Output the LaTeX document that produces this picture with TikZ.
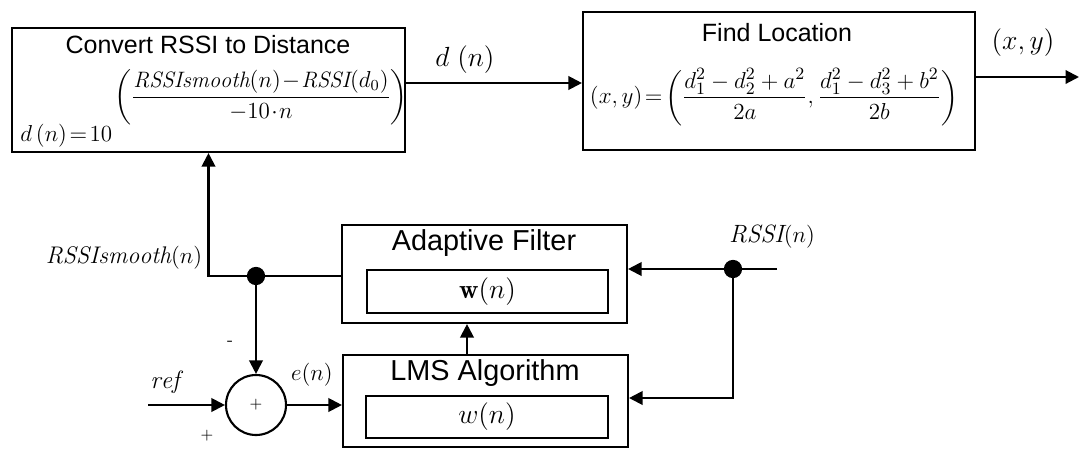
\documentclass[tikz,border=0pt]{standalone}
\usepackage{amsmath}
\usepackage{fontspec}
\newfontfamily\arialf{Liberation Sans}
\usetikzlibrary{arrows.meta,fit,calc}
\begin{document}
\begin{tikzpicture}[x=0.52pt,y=-0.52pt,
  box/.style={draw,line width=1.1pt,inner sep=0pt},
  arr/.style={line width=1.1pt,-{Triangle[length=7pt,width=7pt]}},
  wire/.style={line width=1.1pt},
  ttl/.style={font=\arialf\fontsize{13}{15}\selectfont,inner sep=0pt},
  ttlb/.style={font=\arialf\fontsize{15}{17}\selectfont,inner sep=0pt},
  lab/.style={inner sep=0pt},
  dot/.style={circle,fill,inner sep=0pt,minimum size=9.5pt}]
\useasboundingbox (0,0) rectangle (1080,450);
% top boxes
\node[box,fit={(12,28)(405,152)}] (box1) {};
\node[box,fit={(583,12)(975,150)}] (box2) {};
\node[ttl] (t1) at (208,45) {Convert RSSI to Distance};
\node[ttl] (t2) at (777,33) {Find Location};
\node[lab,anchor=base west,font=\fontsize{13}{15}\selectfont] (f1a) at (20,141) {$d\,(n)\!=\!10$};
\node[lab,font=\fontsize{11.6}{14}\selectfont] (f1b) at (261,97)
  {$\left(\dfrac{\mathit{RSSIsmooth}(n)\!-\!\mathit{RSSI}(d_0)}{-10\!\cdot\! n}\right)$};
\node[lab,font=\fontsize{12.5}{14}\selectfont] (f2) at (774,97)
  {$(x,y)\!=\!\left(\dfrac{d_1^2-d_2^2+a^2}{2a},\dfrac{d_1^2-d_3^2+b^2}{2b}\right)$};
% lower boxes
\node[box,fit={(342,225)(627,323)}] (AF) {};
\node[box,fit={(367,270)(608,313)}] (AFin) {};
\node[box,fit={(343,355)(628,447)}] (LMS) {};
\node[box,fit={(366,396)(608,438)}] (LMSin) {};
\node[ttlb] (t3) at (484,243) {Adaptive Filter};
\node[ttlb] (t4) at (485,373) {LMS Algorithm};
\node[lab,font=\fontsize{14}{16}\selectfont] (w1) at (AFin) {$\mathbf{w}(n)$};
\node[lab,font=\fontsize{14}{16}\selectfont] (w2) at (LMSin) {$w(n)$};
% summing junction
\node[draw,circle,line width=1.1pt,minimum size={60*0.52pt},inner sep=0pt] (sum) at (256,405) {};
\node[lab,font=\fontsize{8}{9}\selectfont] (splus) at (sum) {$+$};
\node[lab,font=\fontsize{9}{10}\selectfont] (minus) at (230,343) {-};
\node[lab,font=\fontsize{8}{9}\selectfont] (plus2) at (207,436) {$+$};
% labels
\node[lab,font=\fontsize{14}{16}\selectfont] (dn) at (465,60) {$d\;(n)$};
\node[lab,font=\fontsize{15}{17}\selectfont] (xy) at (1023,43) {$(x,y)$};
\node[lab,font=\fontsize{12.5}{14}\selectfont] (rs) at (124,258) {$\mathit{RSSIsmooth}(n)$};
\node[lab,font=\fontsize{13}{15}\selectfont] (rn) at (772,237) {$\mathit{RSSI}(n)$};
\node[lab,font=\fontsize{13}{15}\selectfont] (ref) at (165,382) {$\mathit{ref}$};
\node[lab,font=\fontsize{13}{15}\selectfont] (en) at (312,375) {$e(n)$};
% coordinates
\coordinate (p1) at (405,83);
\coordinate (out) at (1079,77);
\coordinate (xm) at (467,0);
\coordinate (refin) at (148,405);
\coordinate (rin) at (777,269);
\coordinate (j2) at (733,269);
\coordinate (c2) at (733,398);
\coordinate (j1) at (256,276);
% connectors
\draw[arr] (box1.east |- p1) -- (box2.west |- p1);
\draw[arr] (box2.east |- out) -- (out);
\draw[arr] (AF.west |- j1) -- (j1) -- (box1.south |- j1) -- (box1.south);
\draw[arr] (j1) -- (sum.north);
\draw[arr] (refin) -- (sum.west);
\draw[arr] (sum.east) -- (sum.east -| LMS.west);
\draw[arr] (LMS.north -| xm) -- (AF.south -| xm);
\draw[wire] (rin) -- (j2);
\draw[arr] (j2) -- (j2 -| AF.east);
\draw[arr] (j2) -- (c2) -- (c2 -| LMS.east);
\node[dot] at (j1) {};
\node[dot] at (j2) {};
\end{tikzpicture}
\end{document}
